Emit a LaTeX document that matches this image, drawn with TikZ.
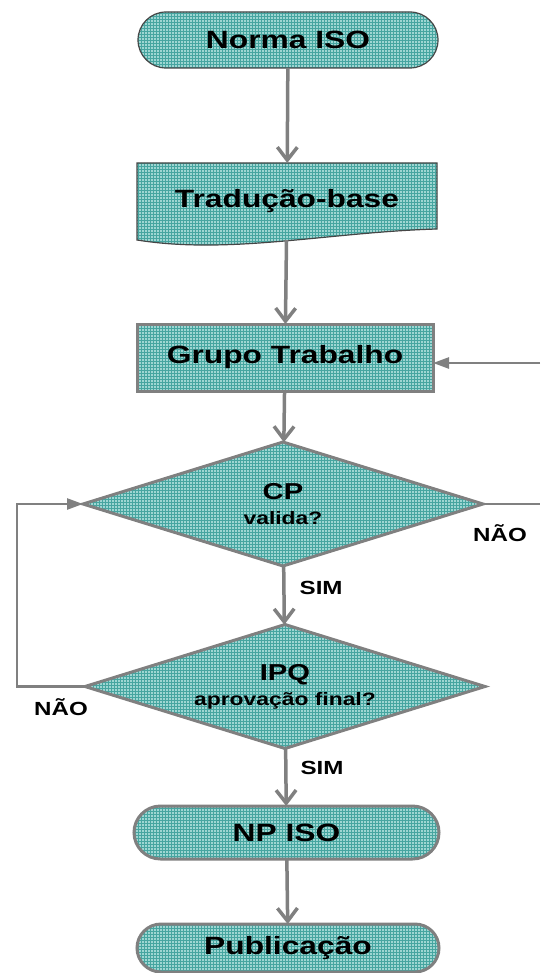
\documentclass[tikz,border=0pt]{standalone}
\usepackage{fontspec}
\newfontfamily\arb[FakeStretch=1.27]{Liberation Sans}
\usetikzlibrary{shapes.geometric,shapes.misc,arrows.meta,patterns,backgrounds}
\definecolor{tealfill}{RGB}{158,214,210}
\definecolor{tealgrid}{RGB}{70,165,160}
\definecolor{edgegray}{RGB}{128,128,128}
\definecolor{edgedark}{RGB}{70,70,70}
\newcommand{\bigtxt}{\arb\bfseries\fontsize{25}{28}\selectfont}
\newcommand{\midtxt}{\arb\bfseries\fontsize{23}{25}\selectfont}
\newcommand{\smltxt}{\arb\bfseries\fontsize{18}{25}\selectfont}
\newcommand{\lbltxt}{\arb\bfseries\fontsize{19}{22}\selectfont}
\begin{document}
\begin{tikzpicture}[x=1pt,y=-1pt,
 shapefill/.style={preaction={fill=tealfill}, pattern=grid, pattern color=tealgrid},
 thickedge/.style={draw=edgegray, line width=3pt},
 thinedge/.style={draw=edgedark, line width=1.2pt},
 terminal/.style={rounded rectangle, shapefill, inner sep=0pt, outer sep=0pt, minimum width=300pt, font=\bigtxt},
 procbox/.style={rectangle, shapefill, thickedge, inner sep=0pt, outer sep=0pt, minimum width=296pt, minimum height=67pt, font=\bigtxt},
 decision/.style={diamond, aspect=3.2, shapefill, thickedge, inner sep=0pt, outer sep=0pt, minimum width=400pt, minimum height=124pt, align=center, font=\midtxt},
 flow/.style={draw=edgegray, line width=3.5pt, -{Straight Barb[length=13pt,width=20pt]}},
 back/.style={draw=edgegray, line width=2.5pt, -{Triangle[length=16pt,width=11pt]}},
 plainline/.style={draw=edgegray, line width=2.5pt},
 lbl/.style={font=\lbltxt, inner sep=0pt}
]
\useasboundingbox (0,0) rectangle (540,973);

\node[terminal, thinedge, minimum height=56pt] (norma) at (288,40) {Norma ISO};
\node[font=\bigtxt, minimum width=300pt, minimum height=77pt, inner sep=0pt, outer sep=0pt] (trad) at (287,201.5) {Tradução-base};
\begin{pgfonlayer}{background}
\path[shapefill, thinedge] (trad.north west) -- (trad.north east) -- ([yshift=11pt]trad.south east)
  .. controls (330,232) and (230,255) .. (trad.south west) -- cycle;
\end{pgfonlayer}
\node[procbox] (grupo) at (285,357.5) {Grupo Trabalho};
\node[decision] (cp) at (283,504) {CP\\{\smltxt valida?}};
\node[decision] (ipq) at (285,686.5) {IPQ\\{\smltxt aprovação final?}};
\node[terminal, thickedge, minimum height=53pt, minimum width=305pt] (np) at (286.5,832.5) {NP ISO};
\node[terminal, thickedge, minimum height=48pt, minimum width=302pt] (pub) at (288,948) {Publicação};

\coordinate (rin) at (540,363);
\coordinate (rout) at (540,504);
\coordinate (loopx) at (17,0);

\draw[flow] (norma) -- (trad);
\draw[flow] (trad) -- (grupo);
\draw[flow] (grupo) -- (cp);
\draw[flow] (cp) -- node[lbl, pos=0.38, right=14pt] (sim1) {SIM} (ipq);
\draw[flow] (ipq) -- node[lbl, pos=0.34, right=13pt] (sim2) {SIM} (np);
\draw[flow] (np) -- (pub);
\draw[back] (rin) -- (rin -| grupo.east);
\draw[plainline] (cp.east) -- (rout);
\draw[back] (ipq.west) -- (ipq.west -| loopx) |- (cp.west);
\node[lbl] (nao1) at (500,533) {NÃO};
\node[lbl] (nao2) at (61,707) {NÃO};
\end{tikzpicture}
\end{document}
